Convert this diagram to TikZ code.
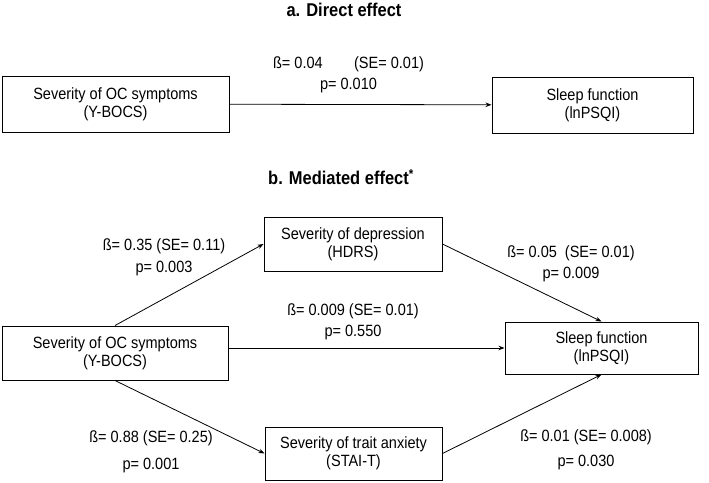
\documentclass[tikz,border=0pt]{standalone}
\usepackage{fontspec}
\setmainfont{Liberation Sans}[FakeStretch=0.89]
\usepackage{tikz}
\usetikzlibrary{arrows.meta}

\begin{document}
\begin{tikzpicture}[
  x=1pt, y=-1pt,
  var/.style={rectangle, draw, line width=1pt, align=center, inner sep=0pt,
              font=\fontsize{16.3}{18}\selectfont},
  coef/.style={align=center, inner sep=0pt, font=\fontsize{16.3}{17}\selectfont},
  ttl/.style={inner sep=0pt, font=\fontsize{18.5}{20}\selectfont\bfseries},
  eff/.style={-{Stealth[length=6pt,width=4.5pt]}, line width=0.8pt}
]
  \useasboundingbox (0,0) rectangle (709,482);

  % a. direct effect
  \node[ttl] (titleA) at (344,10) {a. Direct effect};
  \node[var, minimum width=227pt, minimum height=56pt] (ocA) at (115.5,104)
    {Severity of OC symptoms\\(Y-BOCS)};
  \node[var, minimum width=201pt, minimum height=56pt] (sleepA) at (592.5,105)
    {Sleep function\\(lnPSQI)};
  \draw[eff] (ocA) -- (sleepA);
  \node[coef] (cA) at (348.5,75) {ß= 0.04\hspace{1.93em}(SE= 0.01)\\[4pt]p= 0.010};

  % b. mediated effect
  \node[ttl] (titleB) at (341,177) {b. Mediated effect\textsuperscript{*}};
  \node[var, minimum width=178pt, minimum height=54pt] (depr) at (353,244)
    {Severity of depression\\(HDRS)};
  \node[var, minimum width=226pt, minimum height=54pt] (ocB) at (115,353)
    {Severity of OC symptoms\\(Y-BOCS)};
  \node[var, minimum width=193pt, minimum height=52pt] (sleepB) at (601.5,348)
    {Sleep function\\(lnPSQI)};
  \node[var, minimum width=177pt, minimum height=53pt] (anx) at (353.5,453.5)
    {Severity of trait anxiety\\(STAI-T)};

  \draw[eff] (ocB.north) -- (depr.west);
  \draw[eff] (depr.east) -- (sleepB.north);
  \draw[eff] (ocB.east |- sleepB.west) -- (sleepB.west);
  \draw[eff] (ocB.south) -- (anx.west);
  \draw[eff] (anx.east) -- (sleepB.south);

  \node[coef] (cDepr) at (164,257) {ß= 0.35 (SE= 0.11)\\[5pt]p= 0.003};
  \node[coef] (cDeprSleep) at (571,263.5) {ß= 0.05\ \ (SE= 0.01)\\[4pt]p= 0.009};
  \node[coef] (cDirect) at (353,321.5) {ß= 0.009 (SE= 0.01)\\[4pt]p= 0.550};
  \node[coef] (cAnx) at (151,451.5) {ß= 0.88 (SE= 0.25)\\[10pt]p= 0.001};
  \node[coef] (cAnxSleep) at (586,449.5) {ß= 0.01 (SE= 0.008)\\[8pt]p= 0.030};
\end{tikzpicture}
\end{document}
